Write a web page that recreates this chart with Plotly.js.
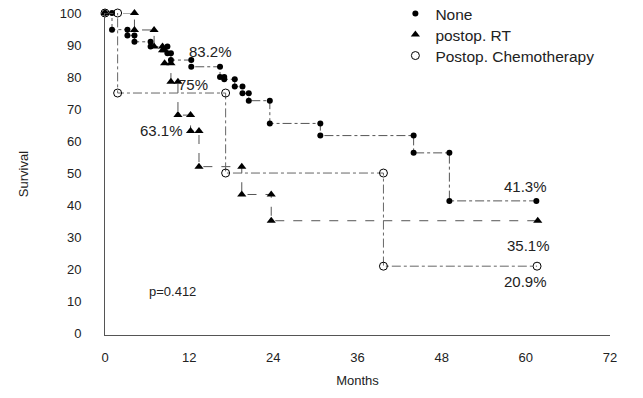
<!DOCTYPE html>
<html>
<head>
<meta charset="utf-8">
<script src="https://cdn.plot.ly/plotly-3.0.1.min.js"></script>
<style>html,body{margin:0;padding:0;background:#fff;}#chart{width:643px;height:398px;}</style>
</head>
<body>
<div id="chart"></div>
<script>
// Kaplan-Meier step data (months, survival %)
var noneTimes = [0, 1.0, 3.2, 4.2, 6.5, 8.9, 9.4, 12.3, 16.4, 17.0, 18.5, 19.6, 20.5, 23.5, 30.7, 44.0, 49.1];
var noneSurv  = [100, 94.8, 93.0, 91.0, 89.5, 87.4, 85.3, 83.2, 80.0, 79.3, 77.0, 74.9, 72.6, 65.5, 61.7, 56.3, 41.3];
var noneEnd = 61.5;

var rtTimes = [0, 4.2, 7.0, 8.2, 8.5, 9.4, 10.4, 12.2, 13.4, 19.5, 23.7];
var rtSurv  = [100, 94.7, 89.5, 88.4, 84.3, 78.5, 68.1, 63.1, 52.0, 43.3, 35.1];
var rtEnd = 61.7;

var chemoTimes = [0, 1.8, 17.2, 39.7];
var chemoSurv  = [100, 75, 50, 20.9];
var chemoEnd = 61.6;

var seriesNames = ["None", "postop. RT", "Postop. Chemotherapy"];
var xTicks = [0, 12, 24, 36, 48, 60, 72];
var yTicks = [0, 10, 20, 30, 40, 50, 60, 70, 80, 90, 100];

var labelTexts = ["83.2%", "75%", "63.1%", "41.3%", "35.1%", "20.9%", "p=0.412"];
var labelX = [15.1, 12.5, 8.0, 59.9, 60.4, 60.0, 9.6];
var labelY = [87.9, 77.6, 63.2, 45.7, 27.3, 16.1, 13.0];

function stepVertices(times, surv, end) {
  var xs = [times[0]], ys = [surv[0]];
  for (var i = 1; i < times.length; i++) {
    xs.push(times[i], times[i]);
    ys.push(surv[i - 1], surv[i]);
  }
  xs.push(end); ys.push(surv[surv.length - 1]);
  return {x: xs, y: ys};
}

var FONT = "Liberation Sans, Arial, sans-serif";
var a = stepVertices(noneTimes, noneSurv, noneEnd);
var b = stepVertices(rtTimes, rtSurv, rtEnd);
var c = stepVertices(chemoTimes, chemoSurv, chemoEnd);

var traces = [
  {x: a.x, y: a.y, mode: "lines+markers", showlegend: false, cliponaxis: false,
   line: {color: "#555", width: 1, dash: "dashdot"},
   marker: {symbol: "circle", size: 6, color: "#000"}},
  {x: b.x, y: b.y, mode: "lines+markers", showlegend: false, cliponaxis: false,
   line: {color: "#555", width: 1, dash: "dash"},
   marker: {symbol: "triangle-up", size: 8, color: "#000"}},
  {x: c.x, y: c.y, mode: "lines+markers", showlegend: false, cliponaxis: false,
   line: {color: "#666", width: 1, dash: "dashdot"},
   marker: {symbol: "circle-open", size: 8, color: "#000", line: {width: 1, color: "#000"}}},
  // legend entries
  {x: [null], y: [null], mode: "markers", name: seriesNames[0], legend: "legend",
   marker: {symbol: "circle", size: 6, color: "#000"}},
  {x: [null], y: [null], mode: "markers", name: seriesNames[1], legend: "legend2",
   marker: {symbol: "triangle-up", size: 8, color: "#000"}},
  {x: [null], y: [null], mode: "markers", name: seriesNames[2], legend: "legend3",
   marker: {symbol: "circle-open", size: 8, color: "#000", line: {width: 1, color: "#000"}}}
];

var annotations = labelTexts.map(function (t, i) {
  return {x: labelX[i], y: labelY[i], xref: "x", yref: "y", text: t, showarrow: false,
    font: {family: FONT, size: i === 6 ? 13 : 15, color: "#222"}};
});

function legendAt(yPaper) {
  return {x: 0.575, y: yPaper, xanchor: "left", yanchor: "top", bgcolor: "rgba(0,0,0,0)",
    font: {family: FONT, size: 15.5, color: "#222"}, itemwidth: 30};
}

var layout = {
  width: 643, height: 398,
  margin: {l: 105, r: 33, t: 13, b: 63, autoexpand: false},
  paper_bgcolor: "#fff", plot_bgcolor: "#fff",
  font: {family: FONT, color: "#222"},
  showlegend: true,
  legend: legendAt(1.0497),
  legend2: legendAt(0.9845),
  legend3: legendAt(0.9193),
  xaxis: {range: [0, 72], tickvals: xTicks, ticktext: xTicks.map(String),
    showline: true, linecolor: "#555", linewidth: 1, showgrid: false, zeroline: false,
    ticks: "outside", ticklen: 10, tickcolor: "rgba(0,0,0,0)",
    tickfont: {family: FONT, size: 13, color: "#222"},
    title: {text: "Months", standoff: 12, font: {family: FONT, size: 13, color: "#222"}}},
  yaxis: {range: [-0.6, 100], tickvals: yTicks, ticktext: yTicks.map(String),
    showline: true, linecolor: "#555", linewidth: 1, showgrid: false, zeroline: false,
    ticks: "outside", ticklen: 20, tickcolor: "rgba(0,0,0,0)",
    tickfont: {family: FONT, size: 13, color: "#222"},
    title: {text: "Survival", standoff: 28, font: {family: FONT, size: 13, color: "#222"}}},
  annotations: annotations
};

Plotly.newPlot("chart", traces, layout, {staticPlot: true, displayModeBar: false});
</script>
</body>
</html>
